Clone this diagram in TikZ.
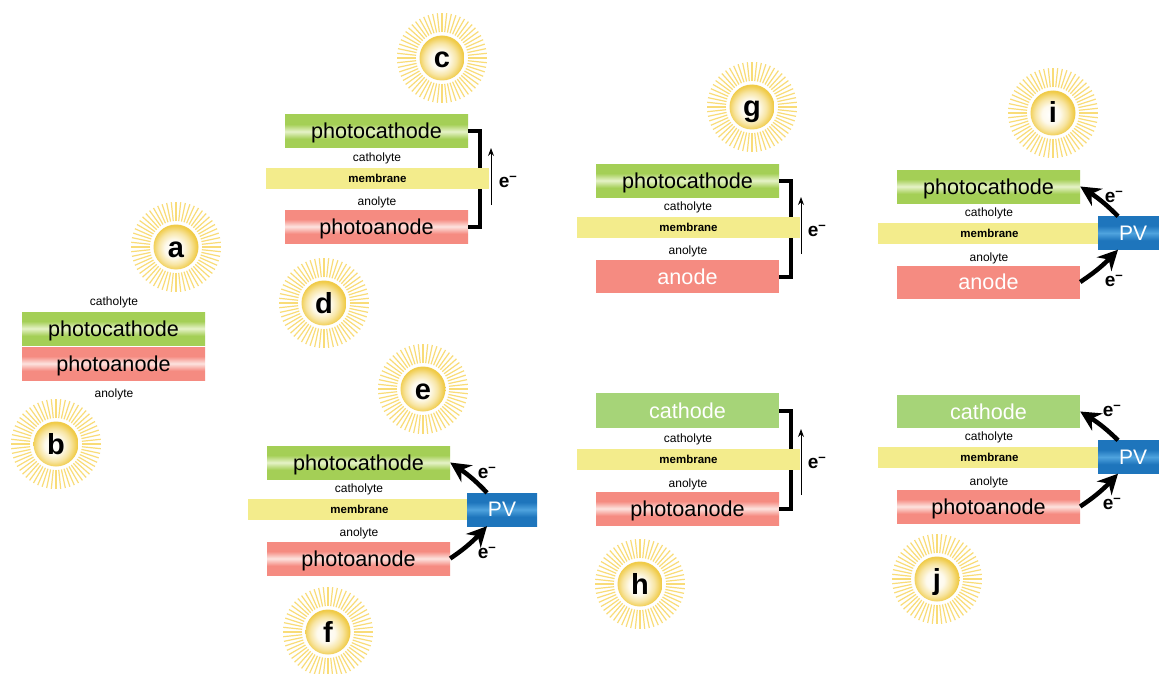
\documentclass[tikz,border=0pt]{standalone}
\usepackage{fontspec}
\setmainfont{Liberation Sans}
\usetikzlibrary{arrows.meta, bending}
\definecolor{leafgreen}{HTML}{A4CF56}
\definecolor{palegreen}{HTML}{E6F2C8}
\definecolor{plaingreen}{HTML}{A6D478}
\definecolor{salmon}{HTML}{F58B81}
\definecolor{palesalmon}{HTML}{FDE3DF}
\definecolor{pvblue}{HTML}{1E75BC}
\definecolor{pvlight}{HTML}{4FA3DE}
\definecolor{straw}{HTML}{F3EC8C}
\definecolor{sunray}{HTML}{F9DC78}
\definecolor{sungold}{HTML}{F0CB48}
\pgfdeclareverticalshading{greenbar}{100bp}{color(0bp)=(leafgreen); color(39bp)=(leafgreen); color(50bp)=(palegreen); color(61bp)=(leafgreen); color(100bp)=(leafgreen)}
\pgfdeclareverticalshading{redbar}{100bp}{color(0bp)=(salmon); color(39bp)=(salmon); color(50bp)=(palesalmon); color(61bp)=(salmon); color(100bp)=(salmon)}
\pgfdeclareverticalshading{bluebar}{100bp}{color(0bp)=(pvblue); color(39bp)=(pvblue); color(50bp)=(pvlight); color(61bp)=(pvblue); color(100bp)=(pvblue)}
\pgfdeclareradialshading{sunball}{\pgfpoint{-3bp}{-2bp}}{color(0bp)=(white); color(10bp)=(white!90!sungold); color(18bp)=(white!50!sungold); color(25bp)=(sungold); color(50bp)=(sungold)}
\tikzset{
    barbox/.style={minimum width=183pt, minimum height=33pt, inner sep=0pt, text height=19.5pt, text depth=4.5pt, font=\fontsize{21.6}{24}\selectfont},
    photocathode/.style={barbox, shade, shading=greenbar},
    photoanode/.style={barbox, shade, shading=redbar},
    plaincathode/.style={barbox, fill=plaingreen, text=white},
    plainanode/.style={barbox, fill=salmon, text=white},
    membrane/.style={minimum width=223pt, minimum height=21pt, inner sep=0pt, fill=straw, font=\fontsize{11.5}{13}\bfseries\selectfont},
    electrolyte/.style={inner sep=0pt, yshift=-1pt, font=\fontsize{12}{14}\selectfont},
    pvbox/.style={minimum width=70pt, minimum height=33pt, inner sep=0pt, shade, shading=bluebar, text=white, font=\fontsize{21}{24}\selectfont},
    electron/.style={inner sep=0pt, xshift=1pt, yshift=-2pt, font=\fontsize{19}{22}\bfseries\selectfont},
    bracket/.style={line width=4pt},
    flow/.style={-{Stealth[length=8pt, width=6pt]}, line width=1pt},
    pvflow/.style={-{Stealth[length=20pt, width=20pt, flex]}, line width=4.5pt},
    sunrays/.style={sunray, line width=1.2pt},
    sunface/.style={circle, minimum size=45pt, inner sep=0pt, text height=26pt, text depth=6pt, shade, shading=sunball, font=\fontsize{29}{32}\bfseries\selectfont}
}
\newcommand{\elec}{e\textsuperscript{–}}
\begin{document}
\begin{tikzpicture}[x=1pt, y=-1pt]
        \path[use as bounding box, clip] (0,0) rectangle (1159,674);
        \fill[white] (0,0) rectangle (1159,674);
        \foreach \sunname/\sunx/\suny in {a/176/247, b/56/444, c/442/58, d/324/303, e/423/389, f/328/632, g/752/107, h/640/584, i/1053/113, j/937/579} {
            \foreach \ang in {0,6,...,354}
                \draw[sunrays] (\sunx,\suny) ++(\ang:26) -- ++(\ang:19);
            \node[sunface] (sun\sunname) at (\sunx,\suny) {\sunname};
        }
        \begin{scope}[shift={(22,312)}]
            \node[electrolyte] (catholyteA) at (92,-11) {catholyte};
            \node[photocathode] (cathodeA) at (91.5,16.5) {photocathode};
            \node[photoanode] (anodeA) at (91.5,51.5) {photoanode};
            \node[electrolyte] (anolyteA) at (92,81) {anolyte};
        \end{scope}
        \begin{scope}[shift={(285,115)}]
            \node[photocathode] (cathodeC) at (91.5,16.5) {photocathode};
            \node[photoanode] (anodeC) at (91.5,111.5) {photoanode};
            \draw[bracket] (cathodeC.east) -- ++(12,0) |- (anodeC.east);
            \node[membrane] (membraneC) at (92.5,63) {membrane};
            \node[electrolyte] (catholyteC) at (92,42) {catholyte};
            \node[electrolyte] (anolyteC) at (92,86) {anolyte};
            \coordinate (lowC) at (206,90);
            \coordinate (highC) at (206,33);
            \draw[flow] (lowC) -- (highC);
            \node[electron] (eC) at (222,65) {\elec};
        \end{scope}
        \begin{scope}[shift={(267,446)}]
            \node[photocathode] (cathodeE) at (91.5,16.5) {photocathode};
            \node[photoanode] (anodeE) at (91.5,112.5) {photoanode};
            \node[membrane] (membraneE) at (92.5,63) {membrane};
            \node[electrolyte] (catholyteE) at (92,42) {catholyte};
            \node[electrolyte] (anolyteE) at (92,86) {anolyte};
            \node[pvbox] (pvE) at (235,63.5) {PV};
            \draw[pvflow] ([xshift=-15pt]pvE.north) to[bend right=7] (cathodeE.east);
            \draw[pvflow] (anodeE.east) to[bend right=7] ([xshift=-15pt]pvE.south);
            \node[electron] (eE) at (219,25) {\elec};
            \node[electron] (eEE) at (219,105) {\elec};
        \end{scope}
        \begin{scope}[shift={(596,164)}]
            \node[photocathode] (cathodeG) at (91.5,16.5) {photocathode};
            \node[plainanode] (anodeG) at (91.5,112.5) {anode};
            \draw[bracket] (cathodeG.east) -- ++(12,0) |- (anodeG.east);
            \node[membrane] (membraneG) at (92.5,63.5) {membrane};
            \node[electrolyte] (catholyteG) at (92,42) {catholyte};
            \node[electrolyte] (anolyteG) at (92,86) {anolyte};
            \coordinate (lowG) at (205,90);
            \coordinate (highG) at (205,33);
            \draw[flow] (lowG) -- (highG);
            \node[electron] (eG) at (220,65) {\elec};
        \end{scope}
        \begin{scope}[shift={(596,393)}]
            \node[plaincathode, minimum height=35pt] (cathodeH) at (91.5,17.5) {cathode};
            \node[photoanode] (anodeH) at (91.5,115.5) {photoanode};
            \draw[bracket] (cathodeH.east) -- ++(12,0) |- (anodeH.east);
            \node[membrane] (membraneH) at (92.5,66.5) {membrane};
            \node[electrolyte] (catholyteH) at (92,45) {catholyte};
            \node[electrolyte] (anolyteH) at (92,90) {anolyte};
            \coordinate (lowH) at (205,102);
            \coordinate (highH) at (205,36);
            \draw[flow] (lowH) -- (highH);
            \node[electron] (eH) at (220,68) {\elec};
        \end{scope}
        \begin{scope}[shift={(897,170)}]
            \node[photocathode] (cathodeI) at (91.5,16.5) {photocathode};
            \node[plainanode] (anodeI) at (91.5,112) {anode};
            \node[membrane] (membraneI) at (92.5,63) {membrane};
            \node[electrolyte] (catholyteI) at (92,42) {catholyte};
            \node[electrolyte] (anolyteI) at (92,87) {anolyte};
            \node[pvbox] (pvI) at (236,63) {PV};
            \draw[pvflow] ([xshift=-15pt]pvI.north) to[bend right=7] (cathodeI.east);
            \draw[pvflow] (anodeI.east) to[bend right=7] ([xshift=-15pt]pvI.south);
            \node[electron] (eI) at (216,25) {\elec};
            \node[electron] (eII) at (216,109) {\elec};
        \end{scope}
        \begin{scope}[shift={(897,395)}]
            \node[plaincathode] (cathodeJ) at (91.5,16.5) {cathode};
            \node[photoanode] (anodeJ) at (91.5,111.5) {photoanode};
            \node[membrane] (membraneJ) at (92.5,62) {membrane};
            \node[electrolyte] (catholyteJ) at (92,41) {catholyte};
            \node[electrolyte] (anolyteJ) at (92,86) {anolyte};
            \node[pvbox] (pvJ) at (236,62) {PV};
            \draw[pvflow] ([xshift=-15pt]pvJ.north) to[bend right=7] (cathodeJ.east);
            \draw[pvflow] (anodeJ.east) to[bend right=7] ([xshift=-15pt]pvJ.south);
            \node[electron] (eJ) at (214,14) {\elec};
            \node[electron] (eJJ) at (214,107) {\elec};
        \end{scope}
    \end{tikzpicture}
\end{document}
